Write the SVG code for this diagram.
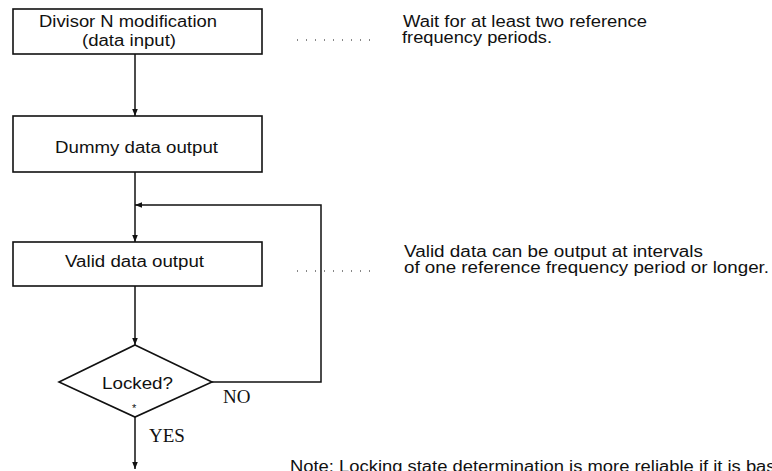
<svg xmlns="http://www.w3.org/2000/svg" width="772" height="471" viewBox="0 0 772 471">
<style>
.box{fill:#fff;stroke:#111;stroke-width:1.6}
.ln{fill:none;stroke:#111;stroke-width:1.5}
.dot{fill:none;stroke:#111;stroke-width:1;stroke-dasharray:1 8}
.t{font-family:"Liberation Sans",Arial,sans-serif;font-size:16px;fill:#111}
.s{font-family:"Liberation Serif","Times New Roman",serif;font-size:19px;fill:#111}
</style>
<defs>
<marker id="ah" viewBox="0 0 10 10" refX="10" refY="5" markerWidth="7" markerHeight="9" markerUnits="userSpaceOnUse" orient="auto">
<path d="M0,1 L10,5 L0,9 Z" fill="#111"/>
</marker>
</defs>
<rect width="772" height="471" fill="#fff"/>
<g id="connectors">
<line class="ln" x1="135" y1="54" x2="135" y2="116" marker-end="url(#ah)"/>
<line class="ln" x1="135" y1="172" x2="135" y2="242" marker-end="url(#ah)"/>
<line class="ln" x1="135" y1="286" x2="135" y2="345" marker-end="url(#ah)"/>
<polyline class="ln" points="212,382 321,382 321,205 135,205" marker-end="url(#ah)"/>
<line class="ln" x1="135" y1="417" x2="135" y2="469" marker-end="url(#ah)"/>
<line class="dot" x1="297" y1="40" x2="371" y2="40"/>
<line class="dot" x1="297" y1="271" x2="371" y2="271"/>
</g>
<g id="n1">
<rect class="box" x="13" y="9" width="249" height="45"/>
<text class="t" x="39" y="27" textLength="178" lengthAdjust="spacingAndGlyphs">Divisor N modification</text>
<text class="t" x="82" y="46" textLength="94" lengthAdjust="spacingAndGlyphs">(data input)</text>
</g>
<g id="n2">
<rect class="box" x="13" y="116" width="249" height="56"/>
<text class="t" x="55" y="153" textLength="163" lengthAdjust="spacingAndGlyphs">Dummy data output</text>
</g>
<g id="n3">
<rect class="box" x="13" y="242" width="249" height="44"/>
<text class="t" x="65" y="267" textLength="139" lengthAdjust="spacingAndGlyphs">Valid data output</text>
</g>
<g id="n4">
<polygon class="box" points="135,345 212,382 135,417 59,382"/>
<text class="t" x="102" y="389" textLength="71" lengthAdjust="spacingAndGlyphs">Locked?</text>
<text class="t" x="132" y="412" style="font-size:11px">*</text>
</g>
<g id="labels">
<text class="s" x="223" y="403">NO</text>
<text class="s" x="149" y="442">YES</text>
<text class="t" x="403" y="27" textLength="244" lengthAdjust="spacingAndGlyphs">Wait for at least two reference</text>
<text class="t" x="402" y="43" textLength="150" lengthAdjust="spacingAndGlyphs">frequency periods.</text>
<text class="t" x="404" y="257" textLength="299" lengthAdjust="spacingAndGlyphs">Valid data can be output at intervals</text>
<text class="t" x="404" y="273" textLength="365" lengthAdjust="spacingAndGlyphs">of one reference frequency period or longer.</text>
<text class="t" x="290" y="472" textLength="506" lengthAdjust="spacingAndGlyphs">Note: Locking state determination is more reliable if it is based</text>
</g>
</svg>
